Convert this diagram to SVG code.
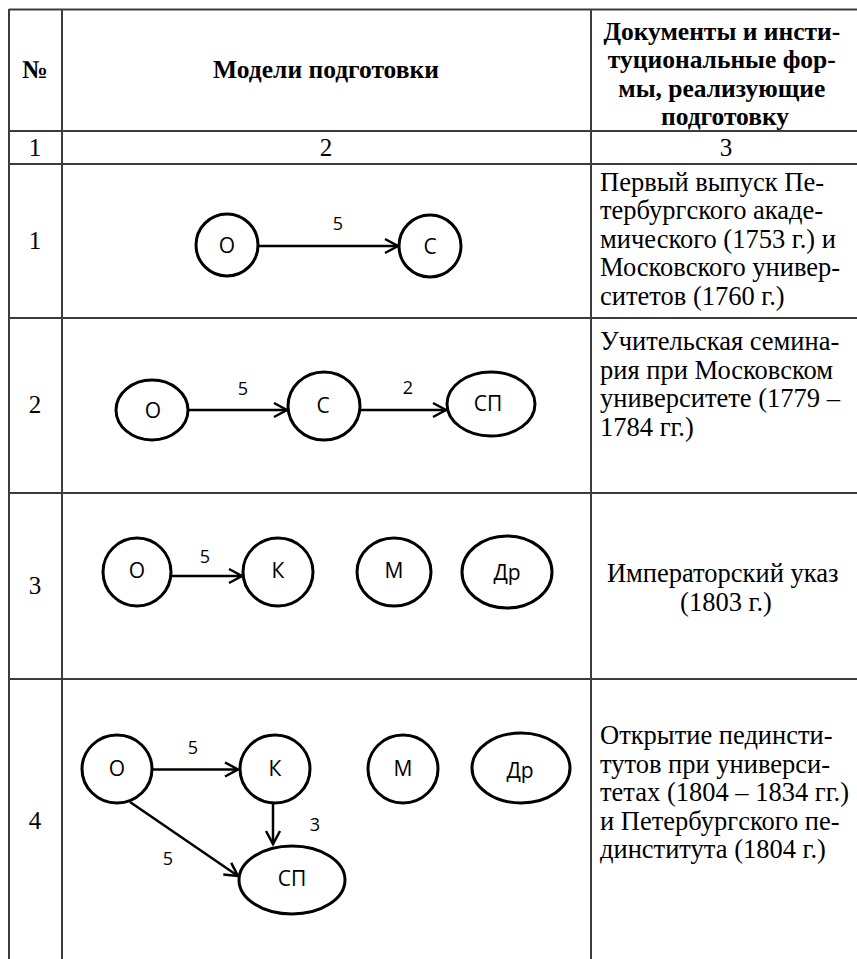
<svg xmlns="http://www.w3.org/2000/svg" width="857" height="959" viewBox="0 0 857 959">
  <style>
    .grid { stroke: #3c3c3c; stroke-width: 2; fill: none; }
    .serif { font-family: "Liberation Serif", "Times New Roman", serif; fill: #000; }
    .hd { font-weight: bold; font-size: 25.5px; }
    .tx { font-size: 26.5px; }
    .num { font-size: 25px; text-anchor: middle; }
    .node { fill: #fff; stroke: #000; stroke-width: 3; }
    .nl { font-family: "Open Sans", "Noto Sans", sans-serif; font-size: 21px; fill: #000; text-anchor: middle; dominant-baseline: central; }
    .el { font-family: "Open Sans", "Noto Sans", sans-serif; font-size: 18px; fill: #000; text-anchor: middle; }
    .edge { stroke: #000; stroke-width: 2.5; fill: none; marker-end: url(#arr); }
  </style>
  <defs>
    <marker id="arr" markerUnits="userSpaceOnUse" markerWidth="22" markerHeight="22" viewBox="-17 -11 22 22" refX="0" refY="0" orient="auto" overflow="visible">
      <path d="M-13,-7 L0,0 L-13,7" fill="none" stroke="#000" stroke-width="2.5" stroke-linejoin="miter"/>
    </marker>
  </defs>
  <rect width="857" height="959" fill="#fff"/>

  <!-- table grid -->
  <g id="table">
    <line class="grid" x1="9" y1="9.5" x2="857" y2="9.5"/>
    <line class="grid" x1="9" y1="131" x2="857" y2="131"/>
    <line class="grid" x1="9" y1="164" x2="857" y2="164"/>
    <line class="grid" x1="9" y1="318" x2="857" y2="318"/>
    <line class="grid" x1="9" y1="493" x2="857" y2="493"/>
    <line class="grid" x1="9" y1="679" x2="857" y2="679"/>
    <line class="grid" x1="9" y1="9" x2="9" y2="959"/>
    <line class="grid" x1="62" y1="9" x2="62" y2="959"/>
    <line class="grid" x1="591" y1="9" x2="591" y2="959"/>
  </g>

  <!-- header -->
  <g id="header" class="serif">
    <text class="hd" x="35" y="78" text-anchor="middle">№</text>
    <text class="hd" x="326" y="78" text-anchor="middle">Модели подготовки</text>
    <text class="hd" text-anchor="middle">
      <tspan x="725" y="39.5">Документы и инсти-</tspan>
      <tspan x="725" y="68">туциональные фор-</tspan>
      <tspan x="725" y="96.5">мы, реализующие</tspan>
      <tspan x="725" y="124.5">подготовку</tspan>
    </text>
    <text class="num" x="35" y="156">1</text>
    <text class="num" x="326" y="156">2</text>
    <text class="num" x="726" y="156">3</text>
  </g>

  <!-- row numbers -->
  <g id="row-numbers" class="serif">
    <text class="num" x="35" y="249">1</text>
    <text class="num" x="35" y="413">2</text>
    <text class="num" x="35" y="594">3</text>
    <text class="num" x="35" y="829">4</text>
  </g>

  <!-- documents column -->
  <g id="documents" class="serif">
    <text class="tx">
      <tspan x="600" y="190.5">Первый выпуск Пе-</tspan>
      <tspan x="600" y="219">тербургского акаде-</tspan>
      <tspan x="600" y="247.5">мического (1753 г.) и</tspan>
      <tspan x="600" y="276">Московского универ-</tspan>
      <tspan x="600" y="304.5">ситетов (1760 г.)</tspan>
    </text>
    <text class="tx">
      <tspan x="600" y="350">Учительская семина-</tspan>
      <tspan x="600" y="378.5">рия при Московском</tspan>
      <tspan x="600" y="407">университете (1779 –</tspan>
      <tspan x="600" y="435.5">1784 гг.)</tspan>
    </text>
    <text class="tx" text-anchor="middle">
      <tspan x="726" y="582">Императорский указ</tspan>
      <tspan x="726" y="610.5">(1803 г.)</tspan>
    </text>
    <text class="tx">
      <tspan x="600" y="744">Открытие пединсти-</tspan>
      <tspan x="600" y="772.5">тутов при универси-</tspan>
      <tspan x="600" y="801">тетах (1804 – 1834 гг.)</tspan>
      <tspan x="600" y="829.5">и Петербургского пе-</tspan>
      <tspan x="600" y="858">динститута (1804 г.)</tspan>
    </text>
  </g>

  <!-- connectors -->
  <g id="connectors">
    <line class="edge" x1="259" y1="246" x2="398" y2="246"/>
    <line class="edge" x1="188" y1="410" x2="287" y2="410"/>
    <line class="edge" x1="360" y1="410" x2="446" y2="410"/>
    <line class="edge" x1="171" y1="576" x2="242" y2="576"/>
    <line class="edge" x1="152" y1="769.5" x2="238" y2="769.5"/>
    <line class="edge" x1="273" y1="803" x2="273" y2="844"/>
    <line class="edge" x1="130" y1="802" x2="238" y2="876"/>
    <text class="el" x="338" y="230">5</text>
    <text class="el" x="243" y="395">5</text>
    <text class="el" x="408" y="394">2</text>
    <text class="el" x="205" y="563">5</text>
    <text class="el" x="193" y="754">5</text>
    <text class="el" x="315" y="831">3</text>
    <text class="el" x="168" y="865">5</text>
  </g>

  <!-- row 1 nodes -->
  <g id="r1-O"><circle class="node" cx="227" cy="245" r="31"/><text class="nl" x="227" y="245">О</text></g>
  <g id="r1-C"><circle class="node" cx="430" cy="246" r="31"/><text class="nl" x="430" y="246">С</text></g>

  <!-- row 2 nodes -->
  <g id="r2-O"><ellipse class="node" cx="152" cy="410" rx="36" ry="30"/><text class="nl" x="153" y="410">О</text></g>
  <g id="r2-C"><ellipse class="node" cx="324" cy="406" rx="36" ry="34"/><text class="nl" x="323" y="405">С</text></g>
  <g id="r2-SP"><ellipse class="node" cx="491" cy="404" rx="44" ry="32"/><text class="nl" x="488" y="403">СП</text></g>

  <!-- row 3 nodes -->
  <g id="r3-O"><ellipse class="node" cx="137" cy="572" rx="34" ry="34"/><text class="nl" x="137" y="570">О</text></g>
  <g id="r3-K"><ellipse class="node" cx="278" cy="572" rx="35" ry="34"/><text class="nl" x="278" y="570">К</text></g>
  <g id="r3-M"><ellipse class="node" cx="394" cy="572" rx="37" ry="34"/><text class="nl" x="394" y="570">М</text></g>
  <g id="r3-Dr"><ellipse class="node" cx="507" cy="572" rx="45" ry="36"/><text class="nl" x="507" y="572">Др</text></g>

  <!-- row 4 nodes -->
  <g id="r4-O"><ellipse class="node" cx="117" cy="769" rx="35" ry="34"/><text class="nl" x="117" y="768">О</text></g>
  <g id="r4-K"><ellipse class="node" cx="275" cy="769" rx="35" ry="34"/><text class="nl" x="275" y="768">К</text></g>
  <g id="r4-M"><ellipse class="node" cx="403" cy="769" rx="35" ry="34"/><text class="nl" x="403" y="768">М</text></g>
  <g id="r4-Dr"><ellipse class="node" cx="521" cy="768" rx="49" ry="35"/><text class="nl" x="520" y="770">Др</text></g>
  <g id="r4-SP"><ellipse class="node" cx="292" cy="880" rx="53" ry="34"/><text class="nl" x="292" y="878">СП</text></g>
</svg>
